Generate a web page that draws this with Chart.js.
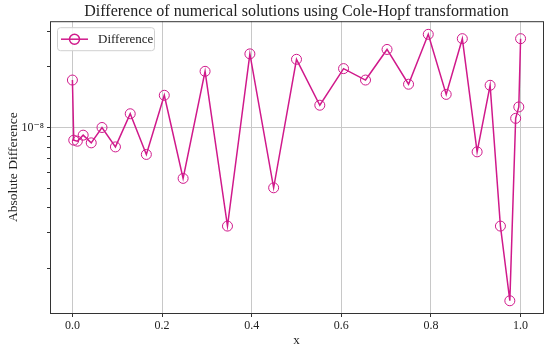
<!DOCTYPE html>
<html>
<head>
<meta charset="utf-8">
<script src="https://cdn.jsdelivr.net/npm/chart.js@4"></script>
<style>
  html, body { margin: 0; padding: 0; background: #fff; }
  #wrap { width: 550px; height: 350px; }
</style>
</head>
<body>
<div id="wrap"><canvas id="chart"></canvas></div>
<script>
// Data
const xValues = [0, 0.003, 0.011, 0.024, 0.042, 0.066, 0.096, 0.129, 0.165, 0.205,
  0.247, 0.296, 0.346, 0.396, 0.449, 0.5, 0.552, 0.605, 0.654, 0.702,
  0.75, 0.794, 0.834, 0.87, 0.903, 0.932, 0.955, 0.976, 0.989, 0.996, 1.0];
const diffValues = [1.72e-8, 8.65e-9, 8.55e-9, 9.16e-9, 8.39e-9, 1.0e-8, 8.01e-9, 1.17e-8, 7.35e-9, 1.445e-8,
  5.59e-9, 1.90e-8, 3.24e-9, 2.32e-8, 5.02e-9, 2.18e-8, 1.29e-8, 1.96e-8, 1.72e-8, 2.44e-8,
  1.64e-8, 2.90e-8, 1.46e-8, 2.76e-8, 7.57e-9, 1.62e-8, 3.24e-9, 1.38e-9, 1.11e-8, 1.265e-8, 2.76e-8];

const xTicks = [0, 0.2, 0.4, 0.6, 0.8, 1.0];
const yTicks = [2e-9, 3e-9, 4e-9, 5e-9, 6e-9, 7e-9, 8e-9, 9e-9, 1e-8, 2e-8, 3e-8];
const yMajor = 1e-8;

const lineColor = '#d0198b';
const serif = "'Liberation Serif', 'DejaVu Serif', serif";

// Frame + legend inside the plot, matplotlib style
const framePlugin = {
  id: 'frame',
  afterDraw(c) {
    const { ctx, chartArea: a } = c;
    ctx.save();
    ctx.strokeStyle = '#333';
    ctx.lineWidth = 1;
    ctx.strokeRect(a.left + 0.5, a.top + 0.5, a.right - a.left, a.bottom - a.top);

    // legend
    const bx = a.left + 7, by = a.top + 6, bw = 97, bh = 23;
    ctx.fillStyle = 'rgba(255,255,255,0.85)';
    ctx.strokeStyle = '#d0d0d0';
    ctx.beginPath();
    ctx.roundRect(bx + 0.5, by + 0.5, bw, bh, 3);
    ctx.fill();
    ctx.stroke();
    const ly = by + bh / 2 + 0.5;
    ctx.strokeStyle = lineColor;
    ctx.lineWidth = 1.5;
    ctx.beginPath();
    ctx.moveTo(bx + 4, ly);
    ctx.lineTo(bx + 31, ly);
    ctx.stroke();
    ctx.beginPath();
    ctx.arc(bx + 17.5, ly, 5, 0, Math.PI * 2);
    ctx.stroke();
    ctx.fillStyle = '#222';
    ctx.font = '13px ' + serif;
    ctx.textBaseline = 'middle';
    ctx.fillText('Difference', bx + 41, ly);
    ctx.restore();
  }
};

chart = new Chart(document.getElementById('chart'), {
  type: 'line',
  data: {
    datasets: [{
      label: 'Difference',
      data: xValues.map((x, i) => ({ x, y: diffValues[i] })),
      borderColor: lineColor,
      borderWidth: 1.5,
      pointStyle: 'circle',
      pointRadius: 5,
      pointBorderWidth: 1,
      pointBorderColor: lineColor,
      pointBackgroundColor: 'rgba(0,0,0,0)',
      tension: 0,
    }],
  },
  options: {
    responsive: true,
    maintainAspectRatio: false,
    animation: false,
    layout: { padding: { right: 7, left: 0, bottom: 0, top: 0 } },
    scales: {
      x: {
        type: 'linear',
        min: -0.05,
        max: 1.05,
        afterBuildTicks: s => { s.ticks = xTicks.map(v => ({ value: v })); },
        afterFit: s => { s.height = 37; },
        ticks: {
          color: '#222',
          font: { family: serif, size: 12 },
          padding: 2,
          maxRotation: 0,
          callback: v => v.toFixed(1),
        },
        grid: { color: '#c8c8c8', tickColor: '#333', tickLength: 4 },
        border: { display: false },
        title: { display: true, text: 'x', color: '#222', font: { family: serif, size: 13 }, padding: { top: 0, bottom: 2 } },
      },
      y: {
        type: 'logarithmic',
        min: 1.2e-9,
        max: 3.37e-8,
        afterBuildTicks: s => { s.ticks = yTicks.map(v => ({ value: v, major: v === yMajor })); },
        afterFit: s => { s.width = 50; },
        ticks: {
          color: '#222',
          font: { family: serif, size: 12 },
          padding: 3,
          autoSkip: false,
          callback: v => (v === yMajor ? '10⁻⁸' : ''),
        },
        grid: {
          color: ctx => (ctx.tick && ctx.tick.value === yMajor ? '#c8c8c8' : 'rgba(0,0,0,0)'),
          tickColor: '#333',
          tickLength: 3,
        },
        border: { display: false },
        title: { display: true, text: 'Absolute Difference', color: '#222', font: { family: serif, size: 13.5 }, padding: { top: 5, bottom: 0 } },
      },
    },
    plugins: {
      legend: { display: false },
      tooltip: { enabled: false },
      title: {
        display: true,
        fullSize: false,
        text: 'Difference of numerical solutions using Cole-Hopf transformation',
        color: '#222',
        font: { family: serif, size: 16, weight: 'normal', lineHeight: 1.2 },
        padding: { top: 2, bottom: 0 },
      },
    },
  },
  plugins: [framePlugin],
});
</script>
</body>
</html>
